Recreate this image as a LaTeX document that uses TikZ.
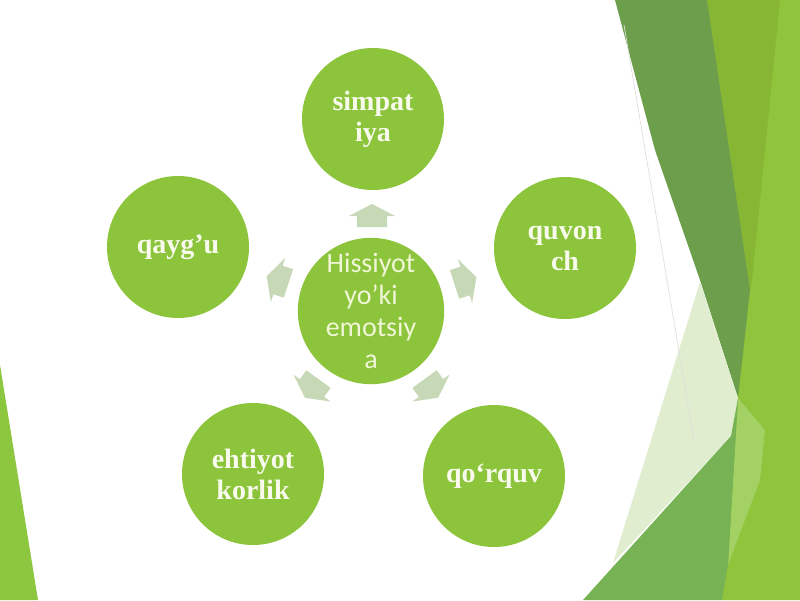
\documentclass[tikz,border=0pt]{standalone}
\usepackage{fontspec}
\setmainfont{Liberation Serif}
\newfontfamily\calfont{Carlito}
\definecolor{circgreen}{HTML}{8CC43C}
\definecolor{arrowgrey}{HTML}{C6D8B6}
\definecolor{txtwhite}{HTML}{F8FAEC}
\definecolor{ctrtxt}{HTML}{F0F6D6}
\definecolor{bgdark}{HTML}{6C9E4C}
\definecolor{bgmid}{HTML}{86B633}
\definecolor{bgright}{HTML}{8FC43C}
\definecolor{bgpale}{HTML}{E0EDCE}
\definecolor{bgmed}{HTML}{77B255}
\definecolor{bglight}{HTML}{A3D163}
\definecolor{bgleft}{HTML}{8DC63F}
\begin{document}
\begin{tikzpicture}[x=1pt,y=-1pt,
  bubble/.style={circle,fill=circgreen,minimum size=142pt,inner sep=0pt,
    text=txtwhite,font=\fontsize{28}{31}\selectfont\bfseries,align=center},
  centre/.style={circle,fill=circgreen,minimum size=142pt,inner sep=0pt,
    text=ctrtxt,font=\calfont\fontsize{28}{32}\selectfont,align=center},
  arrowshape/.style={fill=arrowgrey}]
\useasboundingbox (0,0) rectangle (800,600);
\fill[white] (0,0) rectangle (800,600);
% background facets
\fill[bgright] (707,0) -- (800,0) -- (800,600) -- (722,600) -- (738,395) -- cycle;
\fill[bgmid] (707,0) -- (780,0) -- (752,280) -- (750,290) -- cycle;
\fill[bgdark] (615,0) -- (707,0) -- (750,290) -- (738,398) -- (700,280) -- (655,150) -- cycle;
\fill[bgpale] (700,282) -- (738,398) -- (731,436) -- (613,563) -- cycle;
\fill[bglight] (738,398) -- (765,430) -- (760,480) -- (728,565) -- cycle;
\fill[bgmed] (583,600) -- (731,436) -- (738,398) -- (728,565) -- (722,600) -- cycle;
\fill[bgleft] (0,365) -- (38,600) -- (0,600) -- cycle;
\draw[black!12,line width=0.7pt] (624,25) -- (694,440);
% nodes
\node[centre] (c) at (371,311) {Hissiyot\\yo’ki\\emotsiy\\a};
\node[bubble] (s) at (373,119) {simpat\\iya};
\node[bubble] (q) at (565,248) {quvon\\ch};
\node[bubble] (r) at (494,476) {qo‘rquv};
\node[bubble] (e) at (253,474) {ehtiyot\\korlik};
\node[bubble] (g) at (178,247) {qayg’u};
% arrows pointing outward (visual angle \th)
\foreach \px/\py/\th in {372/216/90, 465/281/18, 278/280/162, 312/388/234, 431/388/306}{
  \begin{scope}[shift={(\px,\py)},
      x={({sin(\th)*1pt},{-cos(\th)*1pt})},
      y={({-cos(\th)*1pt},{-sin(\th)*1pt})}]
    \fill[arrowshape] (0,-12) -- (23,0) -- (15,0) -- (15,11) -- (-15,11) -- (-15,0) -- (-23,0) -- cycle;
  \end{scope}
}
\end{tikzpicture}
\end{document}
